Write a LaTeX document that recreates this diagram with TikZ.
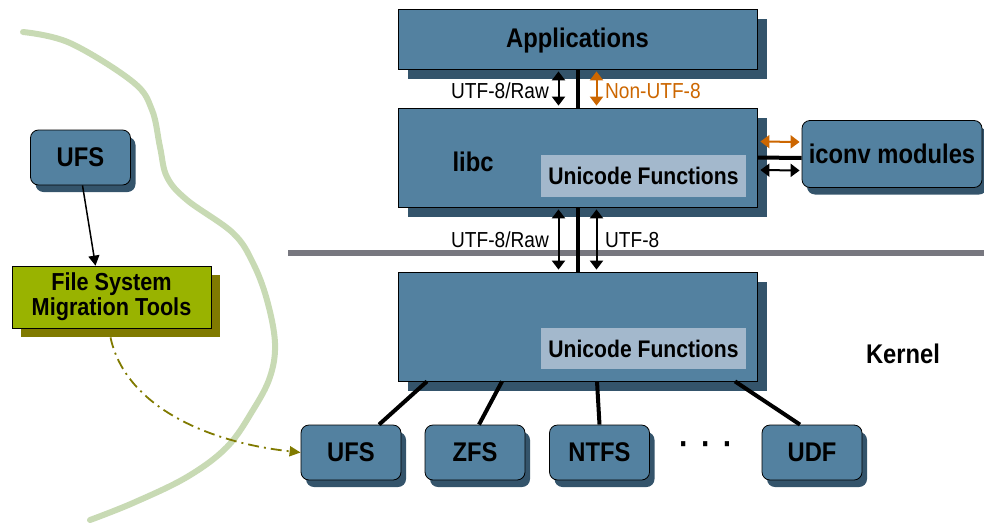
\documentclass[tikz,border=0pt]{standalone}
\usepackage{fontspec}
\setmainfont{Liberation Sans}[FakeStretch=0.88]
\usetikzlibrary{arrows.meta,shadows}
\definecolor{boxblue}{RGB}{83,129,160}
\definecolor{boxshade}{RGB}{52,84,107}
\definecolor{unifill}{RGB}{163,184,204}
\definecolor{toolfill}{RGB}{153,179,0}
\definecolor{toolshade}{RGB}{128,122,0}
\definecolor{convorange}{RGB}{204,102,0}
\definecolor{rulegray}{RGB}{119,119,127}
\definecolor{bordergreen}{RGB}{200,218,180}
\newcommand{\bighead}{\bfseries\fontsize{27}{29}\selectfont}
\newcommand{\smallhead}{\fontsize{21.7}{23}\selectfont}
\begin{document}
\begin{tikzpicture}[x=1pt,y=-1pt,
  layer/.style={rectangle, draw=black, line width=0.8pt, fill=boxblue, inner sep=0pt,
    drop shadow={shadow xshift=10pt, shadow yshift=-10pt, fill=boxshade, opacity=1}},
  fsbox/.style={rectangle, rounded corners=8pt, draw=black, line width=0.8pt, fill=boxblue,
    inner sep=0pt, minimum width=100pt, minimum height=55pt, font=\bighead,
    drop shadow={shadow xshift=5pt, shadow yshift=-7pt, fill=boxshade, opacity=1}},
  unibox/.style={rectangle, fill=unifill, inner sep=0pt, minimum width=205pt,
    minimum height=41pt, font=\bfseries\fontsize{24}{26}\selectfont},
  toolbox/.style={rectangle, draw=black, line width=0.8pt, fill=toolfill, inner sep=0pt,
    align=center, font=\bfseries\fontsize{24.6}{25}\selectfont,
    drop shadow={shadow xshift=9pt, shadow yshift=-9pt, fill=toolshade, opacity=1}},
  tag/.style={font=\smallhead, inner sep=1pt},
  dbl/.style={{Triangle[length=9pt,width=13pt]}-{Triangle[length=9pt,width=13pt]}, line width=2pt},
  link/.style={line width=4pt}]
\useasboundingbox (0,0) rectangle (984,525);
% border between the two worlds
\draw[bordergreen, line width=6pt, line cap=round] plot[smooth, tension=0.6] coordinates
  {(23,32) (70,43) (133,82) (152,110) (160,147) (167,177) (187,200) (233,233) (253,263)
   (267,300) (275,343) (270,377) (253,410) (227,447) (187,477) (133,503) (90,520)};
\draw[rulegray, line width=6pt] (288,253) -- (984,253);
% user land
\node[layer, minimum width=359pt, minimum height=60pt, font=\bighead, text depth=0pt, text height=17pt] (apps) at (577.5,39) {Applications};
\node[layer, minimum width=359pt, minimum height=99pt] (libc) at (577.5,157.5) {};
\node[font=\bighead] (libcname) at (473,162) {libc};
\node[unibox, minimum height=42pt] (libcuni) at (643.5,176) {Unicode Functions};
\node[fsbox, minimum width=180pt, minimum height=67pt] (iconv) at (892,154) {iconv modules};
% kernel
\node[layer, minimum width=359pt, minimum height=109pt] (kernel) at (577.5,326.5) {};
\node[unibox] (kernuni) at (643.5,348.5) {Unicode Functions};
\node[font=\bighead] (kernname) at (903,354) {Kernel};
\node[fsbox] (ufs) at (351,452.5) {UFS};
\node[fsbox] (zfs) at (475,452.5) {ZFS};
\node[fsbox] (ntfs) at (599.5,452.5) {NTFS};
\node[font=\bfseries\fontsize{34}{34}\selectfont] (dots) at (706,449) {·\hspace{12pt}·\hspace{12pt}·};
\node[fsbox] (udf) at (812,452.5) {UDF};
% migration
\node[fsbox] (oldufs) at (80.5,157.5) {UFS};
\node[toolbox, minimum width=199pt, minimum height=62pt] (tools) at (111.5,297) {File System\\Migration Tools};
% links
\draw[link] (apps.south) -- (libc.north);
\draw[dbl] ([xshift=-19pt,yshift=-2pt]apps.south) -- ([xshift=-19pt,yshift=2pt]libc.north);
\draw[dbl, convorange] ([xshift=19pt,yshift=-2pt]apps.south) -- ([xshift=19pt,yshift=2pt]libc.north);
\node[tag, anchor=east] (rawup) at (550,91) {UTF-8/Raw};
\node[tag, anchor=west, text=convorange] (nonutf) at (604,91) {Non-UTF-8};
\draw[link] (libc.south) -- (kernel.north);
\draw[dbl] ([xshift=-19pt,yshift=-2pt]libc.south) -- ([xshift=-19pt,yshift=2pt]kernel.north);
\draw[dbl] ([xshift=19pt,yshift=-2pt]libc.south) -- ([xshift=19pt,yshift=2pt]kernel.north);
\node[tag, anchor=east] (rawdown) at (550,240) {UTF-8/Raw};
\node[tag, anchor=west] (utfdown) at (604,240) {UTF-8};
\draw[link] (libc.east) -- ([yshift=-4pt]iconv.west);
\draw[dbl, convorange] ([xshift=3pt,yshift=16pt]libc.east) -- ([xshift=-2pt,yshift=12pt]iconv.west);
\draw[dbl] ([xshift=3pt,yshift=-12.5pt]libc.east) -- ([xshift=-2pt,yshift=-16.5pt]iconv.west);
\draw[link] ([xshift=-150.5pt]kernel.south) -- ([xshift=28pt]ufs.north);
\draw[link] ([xshift=-75.5pt]kernel.south) -- ([xshift=4pt]zfs.north);
\draw[link] ([xshift=19.5pt]kernel.south) -- (ntfs.north);
\draw[link] ([xshift=157.5pt]kernel.south) -- ([xshift=-12pt]udf.north);
\draw[-{Triangle[length=10pt,width=11pt]}, line width=1.5pt] ([xshift=2pt]oldufs.south) -- ([xshift=-16pt]tools.north);
\draw[-{Triangle[length=11pt,width=10pt]}, toolshade, line width=1.8pt,
  dash pattern=on 11pt off 5pt on 2pt off 5pt]
  ([xshift=-1pt,yshift=-9pt]tools.south) .. controls (125,405) and (205,442) .. (ufs.west);
\end{tikzpicture}
\end{document}
